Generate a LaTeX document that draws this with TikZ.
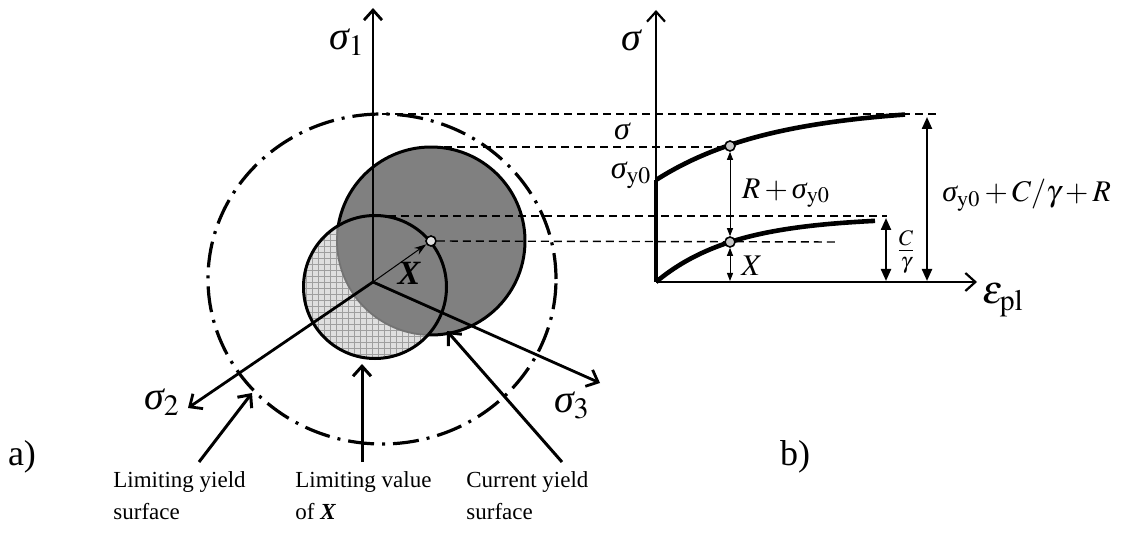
\documentclass[tikz,border=0pt]{standalone}
\usepackage{mathptmx}
\usepackage[no-math]{fontspec}
\setmainfont{Liberation Serif}
\usetikzlibrary{arrows.meta,patterns}
\newcommand{\sg}{\mbox{\itshape σ}}
\begin{document}
\begin{tikzpicture}[x=0.5pt,y=0.5pt,
  axis/.style={line width=1.4pt,-{Straight Barb[length=5pt,width=9pt]}},
  axisb/.style={line width=1.1pt,-{Straight Barb[length=5pt,width=9pt]}},
  pointer/.style={line width=1.5pt,-{Straight Barb[length=5pt,width=9pt]}},
  dsh/.style={line width=0.7pt,dash pattern=on 4pt off 2.5pt},
  curve/.style={line width=2.3pt},
  dot/.style={circle,draw,line width=0.8pt,fill=gray!45,inner sep=0pt,minimum size=5pt},
  dimthin/.style={line width=0.5pt,{Triangle[length=4pt,width=3pt]}-{Triangle[length=4pt,width=3pt]}},
  dimthick/.style={line width=1.1pt,{Triangle[length=6pt,width=5pt]}-{Triangle[length=6pt,width=5pt]}},
  big/.style={font=\fontsize{20}{22}\selectfont,inner sep=0pt},
  mid/.style={font=\fontsize{15}{18}\selectfont,inner sep=0pt},
  tag/.style={font=\fontsize{18}{20}\selectfont,inner sep=0pt},
  txt/.style={font=\fontsize{11.5}{16}\selectfont,align=left,inner sep=0pt}]
\useasboundingbox (0,0) rectangle (1125,-534);

% ---------- a) ----------
\coordinate (O) at (373,-282);
\coordinate (S1) at (373,-8);
\coordinate (S2) at (188,-408);
\coordinate (S3) at (600,-383);
\coordinate (D) at (431,-241);
\coordinate (L) at (375,-287);

\fill[gray!25] (L) circle (71.5);
\fill[pattern=grid,pattern color=gray!75] (L) circle (71.5);
\fill[gray] (D) circle (94);
\draw[black!55,line width=0.9pt] (D) ++(170.6:94) arc[start angle=170.6,end angle=268.2,radius=94];
\draw[line width=1.5pt] (D) ++(268.2:94) arc[start angle=268.2,end angle=530.6,radius=94];
\draw[line width=1.5pt] (L) circle (71.5);

\draw[line width=1.6pt,dash pattern=on 13pt off 4pt on 1.5pt off 4pt] (382,-279) ellipse [x radius=174,y radius=165];

\draw[axis] (O) -- (S1);
\draw[axis] (O) -- (S2);
\draw[axis] (O) -- (S3);

% dashed projection lines
\coordinate (A1) at (382,-114); \coordinate (A2) at (940,-114);
\coordinate (B1) at (431,-147); \coordinate (B2) at (730,-147);
\coordinate (C1) at (375,-216); \coordinate (C2) at (887,-216);
\coordinate (E2) at (838,-242);
\draw[dsh] (A1) -- (A2);
\draw[dsh] (B1) -- (B2);
\draw[dsh] (C1) -- (C2);

\node[dot,fill=gray!25] (PX) at (D) {};
\draw[dsh] (PX) -- (E2);
\draw[line width=0.5pt,-{Stealth[length=6pt,width=4pt]}] (O) -- (PX);
\node[font=\fontsize{17}{18}\selectfont\bfseries\itshape,inner sep=0pt] (lX) at (409,-273) {X};

\node[big] (l1) at (347,-42) {$\sg_1$};
\node[big] (l2) at (162,-402) {$\sg_2$};
\node[big] (l3) at (572,-405) {$\sg_3$};
\node[tag] (la) at (22,-457) {a)};

% pointers and texts
\node[txt,anchor=north west] (t1) at (113,-471) {Limiting yield\\surface};
\node[txt,anchor=north west] (t2) at (295,-471) {Limiting value\\of \textbf{\textit{X}}};
\node[txt,anchor=north west] (t3) at (466,-471) {Current yield\\surface};
\coordinate (p1s) at (199,-462); \coordinate (p1e) at (252,-393);
\coordinate (p2s) at (362,-462); \coordinate (p2e) at (362,-364);
\coordinate (p3s) at (562,-462); \coordinate (p3e) at (447,-331);
\draw[pointer] (p1s) -- (p1e);
\draw[pointer] (p2s) -- (p2e);
\draw[pointer] (p3s) -- (p3e);

% ---------- b) ----------
\coordinate (O2) at (656,-282);
\coordinate (Sy) at (656,-10);
\coordinate (Se) at (977,-282);
\coordinate (Y0) at (656,-180);
\draw[axisb] (O2) -- (Sy);
\draw[axisb] (O2) -- (Se);
\draw[curve] (O2) -- (Y0);
\draw[curve] plot[domain=0:249,samples=60] ({656+\x},{-(106+74*exp(-0.00866*\x))});
\draw[curve] plot[domain=0:219,samples=60] ({656+\x},{-(282-65*(1-exp(-0.0129*\x)))});

\node[dot] (P1) at (730,-146) {};
\node[dot] (P2) at (730,-242) {};
\coordinate (Xb) at (730,-281);
\draw[dimthin] (P1) -- (P2);
\draw[dimthin] (P2) -- (Xb);

\coordinate (Ct) at (886,-218); \coordinate (Cb) at (886,-281);
\coordinate (Tt) at (927,-117); \coordinate (Tb) at (927,-281);
\draw[dimthick] (Ct) -- (Cb);
\draw[dimthick] (Tt) -- (Tb);

\node[big] (ls) at (631,-40) {$\sg$};
\node[mid,font=\fontsize{16}{18}\selectfont] (ls2) at (622,-131) {$\sg$};
\node[mid,font=\fontsize{16}{18}\selectfont] (lsy) at (631,-175) {$\sg_{\mathrm{y0}}$};
\node[mid] (lR) at (786,-193) {$R+\sg_{\mathrm{y0}}$};
\node[mid] (lX2) at (752,-266) {$X$};
\node[mid] (lC) at (906,-252) {$\frac{C}{\gamma}$};
\node[mid,anchor=west] (lT) at (942,-195) {$\sg_{\mathrm{y0}}+C/\gamma+R$};
\node[big] (le) at (1003,-300) {$\varepsilon_{\mathrm{pl}}$};
\node[tag] (lb) at (795,-457) {b)};
\end{tikzpicture}
\end{document}
